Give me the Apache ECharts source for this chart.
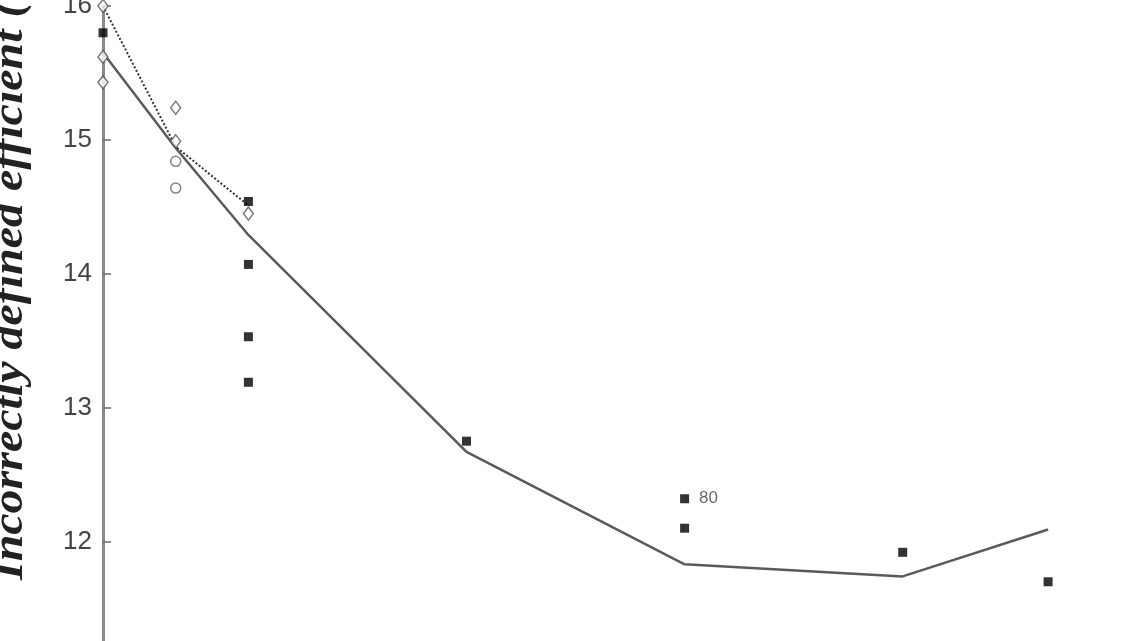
<!DOCTYPE html>
<html>
<head>
<meta charset="utf-8">
<script src="https://cdn.jsdelivr.net/npm/echarts@6/dist/echarts.min.js"></script>
<style>
html,body{margin:0;padding:0;background:#fff;}
#chart{width:1140px;height:641px;}
</style>
</head>
<body>
<div id="chart"></div>
<script>
// Data
const lineX = [10, 20, 30, 60, 90, 120, 140];
const lineY = [15.65, 14.94, 14.29, 12.67, 11.83, 11.74, 12.09];
const dottedX = [10, 20, 30];
const dottedY = [16.0, 14.95, 14.51];
const squareX = [10, 30, 30, 30, 30, 60, 90, 90, 120, 140];
const squareY = [15.80, 14.54, 14.07, 13.53, 13.19, 12.75, 12.32, 12.10, 11.92, 11.70];
const squareLabels = ['', '', '', '', '', '', '80', '', '', ''];
const diamondX = [10, 10, 10, 20, 20, 30];
const diamondY = [16.0, 15.62, 15.43, 15.24, 14.99, 14.45];
const circleX = [20, 20];
const circleY = [14.84, 14.64];
const yTicks = [11, 12, 13, 14, 15, 16];
const yTitle = 'Incorrectly defined efficient (%)';

const zip = (xs, ys) => xs.map((x, i) => [x, ys[i]]);

const chart = echarts.init(document.getElementById('chart'));
chart.setOption({
  backgroundColor: '#fff',
  animation: false,
  grid: { left: 103, top: 6, width: 1090.5, height: 669.5, outerBoundsMode: 'none', containLabel: false },
  xAxis: {
    type: 'value', min: 10, max: 160,
    show: false
  },
  yAxis: {
    type: 'value', min: yTicks[0], max: yTicks[yTicks.length - 1], interval: 1,
    axisLine: { show: true, lineStyle: { color: '#8a8a8a', width: 3 } },
    axisTick: { show: true, inside: true, length: 8, lineStyle: { color: '#666', width: 1.5 } },
    axisLabel: { color: '#444', fontSize: 26, fontFamily: 'Liberation Sans', margin: 11 },
    splitLine: { show: false }
  },
  graphic: [{
    type: 'text',
    x: 33, y: 580,
    rotation: Math.PI / 2,
    scaleX: 1.09,
    style: {
      text: yTitle,
      fontFamily: 'Liberation Serif',
      fontStyle: 'italic',
      fontWeight: 'bold',
      fontSize: 44,
      fill: '#222',
      textAlign: 'left',
      textVerticalAlign: 'bottom'
    }
  }],
  series: [
    {
      type: 'line', data: zip(lineX, lineY), symbol: 'none',
      lineStyle: { color: '#5a5a5a', width: 2.5 }, z: 2
    },
    {
      type: 'line', data: zip(dottedX, dottedY), symbol: 'none',
      lineStyle: { color: '#333', width: 2, type: 'dotted' }, z: 2
    },
    {
      type: 'scatter',
      data: squareX.map((x, i) => ({
        value: [x, squareY[i]],
        label: squareLabels[i] ? { show: true, formatter: squareLabels[i] } : { show: false }
      })),
      symbol: 'rect', symbolSize: 9,
      itemStyle: { color: '#000' },
      label: { position: 'right', distance: 10, fontSize: 17, color: '#444', fontFamily: 'Liberation Sans' },
      z: 4
    },
    {
      type: 'scatter', data: zip(diamondX, diamondY),
      symbol: 'diamond', symbolSize: [10, 13],
      itemStyle: { color: '#fff', borderColor: '#555', borderWidth: 1.5 }, z: 3
    },
    {
      type: 'scatter', data: zip(circleX, circleY),
      symbol: 'circle', symbolSize: 10,
      itemStyle: { color: '#fff', borderColor: '#666', borderWidth: 1.5 }, z: 3
    }
  ]
});
</script>
</body>
</html>
